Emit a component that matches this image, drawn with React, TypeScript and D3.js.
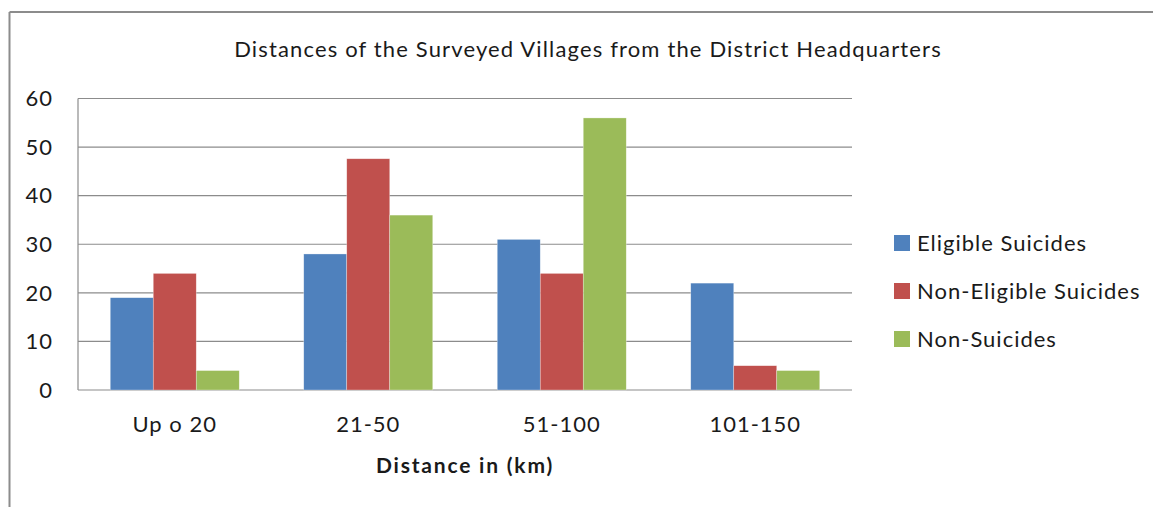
import React from "react";
import * as d3 from "d3";

// chart values
const CATEGORIES = ["Up o 20", "21-50", "51-100", "101-150"];
const SERIES = ["Eligible Suicides", "Non-Eligible Suicides", "Non-Suicides"];
const ELIGIBLE = [19, 28, 31, 22];
const NON_ELIGIBLE = [24, 47.6, 24, 5];
const NON_SUICIDES = [4, 36, 56, 4];
const Y_TICKS = [0, 10, 20, 30, 40, 50, 60];

const COLORS = ["#4F81BD", "#C0504D", "#9BBB59"];
const FONT = "Lato, 'Open Sans', sans-serif";

const W = 1153;
const H = 507;
const plot = { left: 78, top: 98.5, right: 852, bottom: 390 };

export default function App() {
  const values = [ELIGIBLE, NON_ELIGIBLE, NON_SUICIDES];

  const x = d3.scaleBand<string>()
    .domain(CATEGORIES)
    .range([plot.left, plot.right])
    .paddingInner(0)
    .paddingOuter(0);

  // excel gap width 150%: bar = band / (3 + 1.5)
  const barW = x.bandwidth() / (SERIES.length + 1.5);
  const xInner = d3.scaleBand<string>()
    .domain(SERIES)
    .range([barW * 0.75, barW * 0.75 + barW * SERIES.length]);

  const y = d3.scaleLinear().domain([0, 60]).range([plot.bottom, plot.top]);

  return (
    <div style={{ position: "fixed", left: 0, top: 0 }}>
      <svg width={W} height={H} style={{ display: "block", background: "#fff" }}>
        {/* outer frame (left and top edges visible) */}
        <line x1={9.5} y1={12} x2={9.5} y2={H} stroke="#8c8c8c" strokeWidth={2} />
        <line x1={9.5} y1={12} x2={W} y2={12} stroke="#8c8c8c" strokeWidth={2} />

        <text x={588} y={57} textAnchor="middle" fontFamily={FONT} fontSize={22}
          letterSpacing={1.15} fill="#1a1a1a">
          Distances of the Surveyed Villages from the District Headquarters
        </text>

        {/* gridlines */}
        {Y_TICKS.map(t => (
          <line key={t} x1={plot.left} x2={plot.right} y1={y(t)} y2={y(t)}
            stroke="#8c8c8c" strokeWidth={1.2} />
        ))}
        <line x1={plot.left} x2={plot.left} y1={plot.top} y2={plot.bottom}
          stroke="#8c8c8c" strokeWidth={1.2} />

        {/* y tick labels */}
        {Y_TICKS.map(t => (
          <text key={t} x={53} y={y(t)} dy="0.35em" textAnchor="end"
            fontFamily={FONT} fontSize={22} letterSpacing={1} fill="#1a1a1a">{t}</text>
        ))}

        {/* bars */}
        {CATEGORIES.map((c, i) => (
          <g key={c} transform={`translate(${x(c)},0)`}>
            {SERIES.map((s, j) => (
              <rect key={s} x={xInner(s)} width={xInner.bandwidth()}
                y={y(values[j][i])} height={y(0) - y(values[j][i])}
                fill={COLORS[j]} stroke="#ffffff" strokeOpacity={0.5} strokeWidth={0.6} />
            ))}
          </g>
        ))}

        {/* x category labels */}
        {CATEGORIES.map(c => (
          <text key={c} x={(x(c) || 0) + x.bandwidth() / 2} y={432} textAnchor="middle"
            fontFamily={FONT} fontSize={22} letterSpacing={1} fill="#1a1a1a">{c}</text>
        ))}

        <text x={(plot.left + plot.right) / 2} y={473} textAnchor="middle"
          fontFamily={FONT} fontSize={21} letterSpacing={1.8} fontWeight="bold" fill="#1a1a1a">
          Distance in (km)
        </text>

        {/* legend */}
        {SERIES.map((s, j) => (
          <g key={s} transform={`translate(894,${243 + j * 48})`}>
            <rect x={0} y={-8} width={16} height={16} fill={COLORS[j]} />
            <text x={23} y={0} dy="0.35em" fontFamily={FONT} fontSize={22}
              letterSpacing={1} fill="#1a1a1a">{s}</text>
          </g>
        ))}
      </svg>
    </div>
  );
}
